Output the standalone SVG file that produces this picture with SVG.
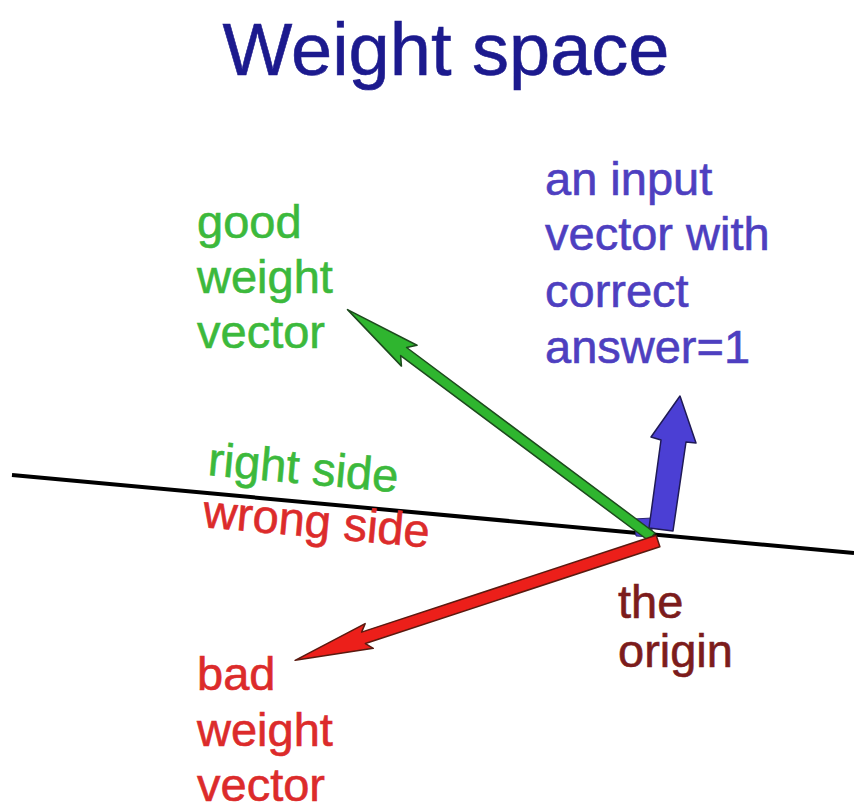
<svg xmlns="http://www.w3.org/2000/svg" width="854" height="811" viewBox="0 0 854 811">
<style>
text{font-family:"Liberation Sans",Arial,sans-serif;font-size:47px;stroke-width:0.6}
.title{font-size:74px;fill:#1c1a8e;stroke:#1c1a8e}
.good{fill:#3cb93c;stroke:#3cb93c}
.bad{fill:#dc2b2b;stroke:#dc2b2b}
.inp{fill:#4e3fc0;stroke:#4e3fc0}
.orig{fill:#7c1c1c;stroke:#7c1c1c}
.arr{stroke-width:1.5;stroke-linejoin:round}
</style>
<rect width="854" height="811" fill="#ffffff"/>
<text class="title" x="446" y="75" text-anchor="middle">Weight space</text>
<g id="connectors">
<line id="boundary" x1="12" y1="475" x2="854" y2="553" stroke="#000" stroke-width="4"/>
<g id="input-vector">
<polygon points="634,519 652,518 652,537 636,536" fill="#4b3fd4" stroke="#2a2370" stroke-width="1"/>
<polygon class="arr" points="680,396 696,443 686,442 673,531 649,528 661,440 651,437" fill="#4b3fd4" stroke="#1f1a55"/>
</g>
<polygon id="good-vector" class="arr" transform="translate(652,537) rotate(216.75)" points="0,-5 310,-5 303,-13 380,0 303,13 310,5 0,5" fill="#2fb52f" stroke="#1d4a1d"/>
<polygon id="bad-vector" class="arr" transform="translate(658,541) rotate(161.8)" points="0,-6 310,-6 304,-13 382,0 304,13 310,6 0,6" fill="#ec1f1a" stroke="#5a1a10"/>
</g>
<g id="good-label">
<text class="good" x="197" y="238">good</text>
<text class="good" x="197" y="293">weight</text>
<text class="good" x="197" y="348">vector</text>
</g>
<g id="input-label">
<text class="inp" x="545" y="195">an input</text>
<text class="inp" x="545" y="250">vector with</text>
<text class="inp" x="545" y="307">correct</text>
<text class="inp" x="545" y="363">answer=1</text>
</g>
<g id="side-labels">
<text class="good" transform="translate(207,475) rotate(5.2)">right side</text>
<text class="bad" transform="translate(202,527) rotate(5.2)">wrong side</text>
</g>
<g id="origin-label">
<text class="orig" x="618" y="618">the</text>
<text class="orig" x="618" y="667">origin</text>
</g>
<g id="bad-label">
<text class="bad" x="197" y="690">bad</text>
<text class="bad" x="197" y="746">weight</text>
<text class="bad" x="197" y="801">vector</text>
</g>
</svg>
